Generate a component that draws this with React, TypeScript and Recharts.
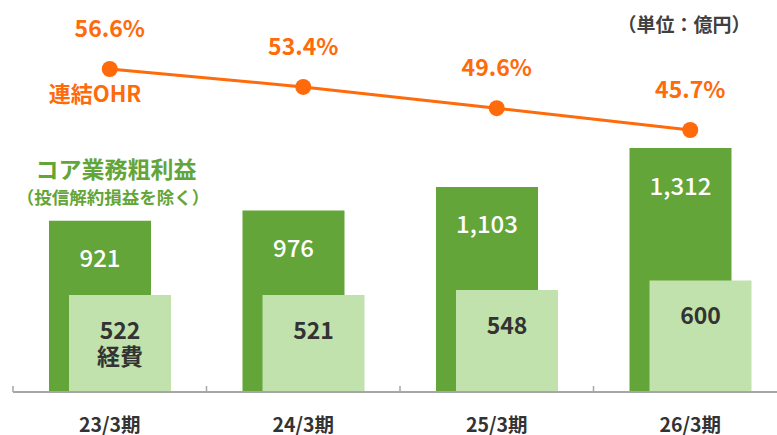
import { ComposedChart, Bar, Line, XAxis, YAxis, LabelList } from 'recharts'

const periods = ['23/3期', '24/3期', '25/3期', '26/3期']
const coreProfit = [921, 976, 1103, 1312]
const expenses = [522, 521, 548, 600]
const ohr = [56.6, 53.4, 49.6, 45.7]

const data = periods.map((period, i) => ({
  period,
  coreProfit: coreProfit[i],
  expenses: expenses[i],
  ohr: ohr[i],
}))

const DARK_GREEN = '#63A539'
const LIGHT_GREEN = '#C1E2AC'
const ORANGE = '#FF6A0A'
const TEXT = '#333333'
const AXIS = '#A6A6A6'
const FONT = "'Noto Sans CJK JP', 'Noto Sans', sans-serif"

const fmt = (v: number) => Number(v).toLocaleString('en-US')

function ProfitLabel(props: any) {
  const x = Number(props.x)
  const y = Number(props.y)
  const w = Number(props.width)
  return (
    <text x={x + w / 2} y={y + 36} fill="#fff" fontSize={24} fontWeight={500}
      textAnchor="middle" dominantBaseline="central">
      {fmt(props.value)}
    </text>
  )
}

function ExpenseLabel(props: any) {
  const x = Number(props.x)
  const y = Number(props.y)
  const w = Number(props.width)
  return (
    <g>
      <text x={x + w / 2} y={y + 34} fill={TEXT} fontSize={23} fontWeight={700}
        textAnchor="middle" dominantBaseline="central">
        {fmt(props.value)}
      </text>
      {props.index === 0 && (
        <text x={x + w / 2} y={y + 60} fill={TEXT} fontSize={23} fontWeight={700}
          textAnchor="middle" dominantBaseline="central">
          経費
        </text>
      )}
    </g>
  )
}

function OhrLabel(props: any) {
  return (
    <text x={Number(props.x)} y={Number(props.y) - 42} fill={ORANGE} fontSize={23} fontWeight={700}
      textAnchor="middle" dominantBaseline="central">
      {Number(props.value).toFixed(1)}%
    </text>
  )
}

function PeriodTick(props: any) {
  const { x, y, payload } = props
  const half = payload?.offset ?? 96.8
  const left = x - half
  return (
    <g>
      <line x1={left} y1={y} x2={left} y2={y - 6} stroke={AXIS} strokeWidth={1.5} />
      <text x={x} y={y + 31} fill={TEXT} fontSize={19.5} fontWeight={700}
        textAnchor="middle" dominantBaseline="central">
        {payload.value}
      </text>
    </g>
  )
}

export default function App() {
  return (
    <div style={{ position: 'absolute', left: 0, top: 0, width: 777, height: 435, overflow: 'hidden', background: '#fff', fontFamily: FONT }}>
      <ComposedChart width={800} height={435} data={data}
        margin={{ top: 0, right: 13, bottom: 0, left: 13 }}
        barSize={102} barGap={-82} style={{ fontFamily: FONT }}>
        <XAxis dataKey="period" height={43} tickSize={0} tickMargin={0} tickLine={false}
          axisLine={{ stroke: AXIS, strokeWidth: 2 }} tick={<PeriodTick />} interval={0} />
        <YAxis yAxisId="left" hide domain={[0, 2108]} allowDataOverflow />
        <YAxis yAxisId="right" orientation="right" hide domain={[-1.12, 68.93]} allowDataOverflow />
        <Bar yAxisId="left" dataKey="coreProfit" fill={DARK_GREEN} isAnimationActive={false}>
          <LabelList dataKey="coreProfit" content={<ProfitLabel />} />
        </Bar>
        <Bar yAxisId="left" dataKey="expenses" fill={LIGHT_GREEN} isAnimationActive={false}>
          <LabelList dataKey="expenses" content={<ExpenseLabel />} />
        </Bar>
        <Line yAxisId="right" dataKey="ohr" stroke={ORANGE} strokeWidth={3}
          dot={{ r: 8, fill: ORANGE, stroke: ORANGE, strokeWidth: 0 }} isAnimationActive={false}>
          <LabelList dataKey="ohr" content={<OhrLabel />} />
        </Line>
      </ComposedChart>
      <svg width={777} height={435} style={{ position: 'absolute', left: 0, top: 0, pointerEvents: 'none', fontFamily: FONT }}>
        <text x={95} y={92} fill={ORANGE} fontSize={22} fontWeight={700} textAnchor="middle" dominantBaseline="central">連結OHR</text>
        <text x={116} y={168} fill={DARK_GREEN} fontSize={23} fontWeight={700} textAnchor="middle" dominantBaseline="central">コア業務粗利益</text>
        <text x={113} y={196} fill={DARK_GREEN} fontSize={17.5} fontWeight={700} textAnchor="middle" dominantBaseline="central">（投信解約損益を除く）</text>
        <text x={684} y={23} fill="#404040" fontSize={19} fontWeight={700} textAnchor="middle" dominantBaseline="central">（単位：億円）</text>
      </svg>
    </div>
  )
}
